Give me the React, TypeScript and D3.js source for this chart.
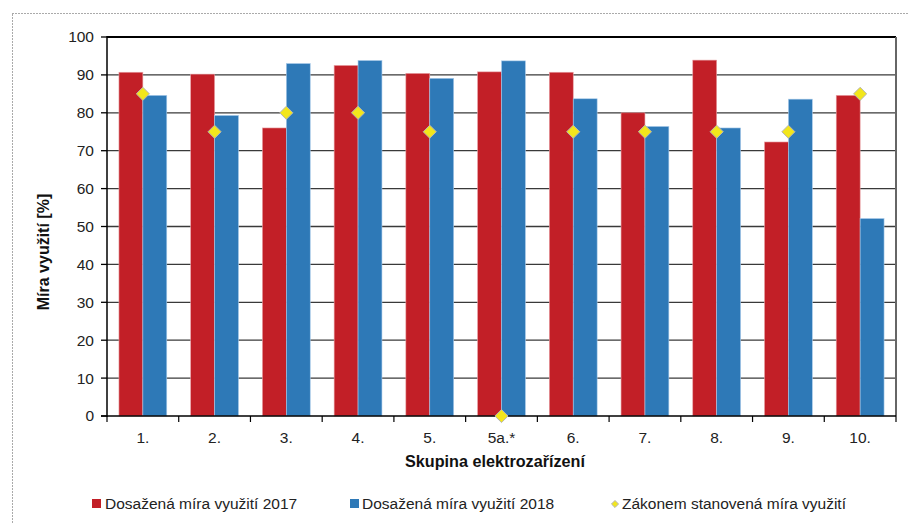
import React from "react";
import * as d3 from "d3";

const categories = ["1.", "2.", "3.", "4.", "5.", "5a.*", "6.", "7.", "8.", "9.", "10."];
const values2017 = [90.7, 90.2, 76.0, 92.5, 90.4, 90.8, 90.7, 80.0, 93.9, 72.3, 84.6];
const values2018 = [84.6, 79.3, 93.0, 93.8, 89.1, 93.7, 83.7, 76.4, 76.0, 83.6, 52.1];
const statutory = [85, 75, 80, 80, 75, 0, 75, 75, 75, 75, 85];
const yTicks = [0, 10, 20, 30, 40, 50, 60, 70, 80, 90, 100];
const seriesNames = ["Dosažená míra využití 2017", "Dosažená míra využití 2018", "Zákonem stanovená míra využití"];

const RED = "#C21F27";
const BLUE = "#2E79B7";
const YELLOW = "#F2E61C";

export default function App() {
  const W = 908, H = 523;
  const left = 107, right = 896, top = 37, bottom = 416;
  const x = d3.scaleBand<string>().domain(categories).range([left, right]).paddingInner(0).paddingOuter(0);
  const y = d3.scaleLinear().domain([0, 100]).range([bottom, top]);
  const bw = x.bandwidth();
  const barW = bw / 3;
  const font = "'Liberation Sans', Arial, sans-serif";
  const fs = 15.5;
  const diamond = d3.symbol().type(d3.symbolDiamond2).size(110)() as string;

  return (
    <svg width={W} height={H} style={{ position: "absolute", left: 0, top: 0 }} fontFamily={font}>
      <rect x={0} y={0} width={W} height={H} fill="#fff" />
      <rect x={12.5} y={13.5} width={W + 20} height={H + 20} fill="none" stroke="#555" strokeWidth={1} strokeDasharray="1,2" />
      {yTicks.filter((t) => t > 0 && t < 100).map((t) => (
        <line key={t} x1={left} x2={right} y1={y(t)} y2={y(t)} stroke="#3a3a3a" strokeWidth={1.3} />
      ))}
      <line x1={left} x2={right} y1={y(100)} y2={y(100)} stroke="#000" strokeWidth={2} />
      {categories.map((c, i) => {
        const x0 = (x(c) as number) + barW / 2;
        return (
          <g key={c}>
            <rect x={x0} y={y(values2017[i])} width={barW} height={bottom - y(values2017[i])} fill={RED} stroke="#E8A0A4" strokeWidth={0.6} />
            <rect x={x0 + barW} y={y(values2018[i])} width={barW} height={bottom - y(values2018[i])} fill={BLUE} stroke="#A9CBEA" strokeWidth={0.6} />
          </g>
        );
      })}
      <line x1={right} x2={right} y1={top} y2={bottom} stroke="#666" strokeWidth={2} />
      <line x1={left} x2={left} y1={top - 1} y2={bottom + 1} stroke="#000" strokeWidth={1.5} />
      <line x1={left - 6} x2={right} y1={bottom} y2={bottom} stroke="#000" strokeWidth={1.5} />
      {yTicks.map((t) => (
        <g key={t}>
          <line x1={left - 6} x2={left} y1={y(t)} y2={y(t)} stroke="#000" strokeWidth={1.3} />
          <text x={left - 13} y={y(t)} dy="0.35em" textAnchor="end" fontSize={fs} fill="#222">{t}</text>
        </g>
      ))}
      {categories.map((c) => (
        <line key={"t" + c} x1={(x(c) as number) + bw} x2={(x(c) as number) + bw} y1={bottom} y2={bottom + 6} stroke="#000" strokeWidth={1.2} />
      ))}
      <line x1={left} x2={left} y1={bottom} y2={bottom + 6} stroke="#000" strokeWidth={1.2} />
      {categories.map((c) => (
        <text key={"l" + c} x={(x(c) as number) + bw / 2} y={438} dy="0.35em" textAnchor="middle" fontSize={fs} fill="#222">{c}</text>
      ))}
      {categories.map((c, i) => (
        <path key={"d" + c} d={diamond} transform={`translate(${(x(c) as number) + bw / 2},${y(statutory[i])})`} fill={YELLOW} stroke="#B5B5B5" strokeWidth={1} />
      ))}
      <text x={495} y={461} dy="0.35em" textAnchor="middle" fontSize={16.2} fontWeight="bold" fill="#111">Skupina elektrozařízení</text>
      <text transform={`translate(43,252) rotate(-90)`} dy="0.35em" textAnchor="middle" fontSize={16} fontWeight="bold" fill="#111">Míra využití [%]</text>
      <rect x={92} y={499} width={9} height={9} fill={RED} />
      <text x={105} y={504} dy="0.35em" fontSize={fs} fill="#222">{seriesNames[0]}</text>
      <rect x={350} y={499} width={9} height={9} fill={BLUE} />
      <text x={362} y={504} dy="0.35em" fontSize={fs} fill="#222">{seriesNames[1]}</text>
      <path d={d3.symbol().type(d3.symbolDiamond2).size(32)() as string} transform="translate(615,504)" fill={YELLOW} stroke="#B5B5B5" strokeWidth={1} />
      <text x={622} y={504} dy="0.35em" fontSize={fs} fill="#222">{seriesNames[2]}</text>
    </svg>
  );
}
